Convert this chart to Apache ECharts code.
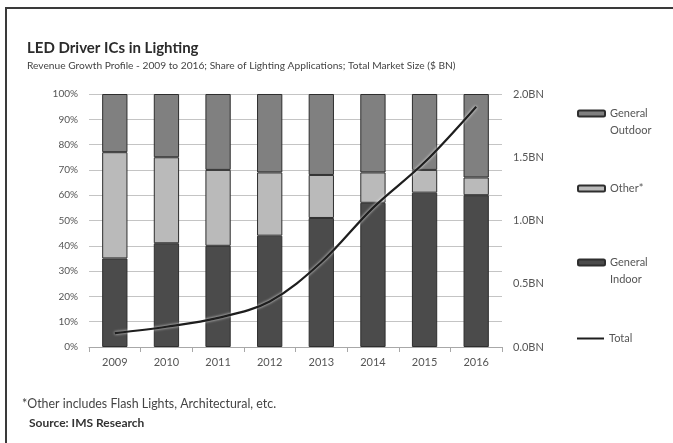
<!DOCTYPE html>
<html>
<head>
<meta charset="utf-8">
<style>
  html, body { margin: 0; padding: 0; background: #ffffff; }
  #chart { width: 673px; height: 443px; }
</style>
<script src="https://cdn.jsdelivr.net/npm/echarts@6/dist/echarts.min.js"></script>
</head>
<body>
<div id="chart"></div>
<script>
// Years on the category axis
const years = ['2009', '2010', '2011', '2012', '2013', '2014', '2015', '2016'];

// Share of lighting applications (% of revenue)
const generalIndoor  = [35, 41, 40, 44, 51, 57, 61, 60];
const otherShare     = [42, 34, 30, 25, 17, 12, 9, 7];
const generalOutdoor = [23, 25, 30, 31, 32, 31, 30, 33];

// Total market size, $ BN
const totalMarket = [0.11, 0.16, 0.23, 0.36, 0.67, 1.10, 1.46, 1.90];

// Axis ranges
const shareTicks = { min: 0, max: 100, interval: 10 };
const sizeTicks  = { min: 0, max: 2, interval: 0.5 };

const FONT = 'Lato, "Open Sans", sans-serif';
const TXT = '#555555';

const chart = echarts.init(document.getElementById('chart'), null, { renderer: 'canvas' });

const legendBase = {
  left: 577,
  padding: 0,
  itemWidth: 27,
  itemHeight: 6,
  itemGap: 3,
  selectedMode: false,
  textStyle: { fontFamily: FONT, fontSize: 11, color: TXT, lineHeight: 17 }
};

const barBorder = { borderColor: '#2e2e2e', borderWidth: 1 };

chart.setOption({
  animation: false,
  backgroundColor: '#ffffff',
  textStyle: { fontFamily: FONT },
  title: [
    {
      text: 'LED Driver ICs in Lighting',
      left: 22, top: 36,
      textStyle: { fontFamily: FONT, fontSize: 15, fontWeight: 'bold', color: '#2b2b2b' }
    },
    {
      text: 'Revenue Growth Profile - 2009 to 2016; Share of Lighting Applications; Total Market Size ($ BN)',
      left: 22, top: 56,
      textStyle: { fontFamily: FONT, fontSize: 10.2, fontWeight: 'normal', color: '#444' }
    },
    {
      text: '*Other includes Flash Lights, Architectural, etc.',
      left: 17, top: 393,
      textStyle: { fontFamily: FONT, fontSize: 12.4, fontWeight: 'normal', color: '#444' }
    },
    {
      text: 'Source: IMS Research',
      left: 24, top: 412,
      textStyle: { fontFamily: FONT, fontSize: 12, fontWeight: 'bold', color: '#333' }
    }
  ],
  legend: [
    Object.assign({}, legendBase, {
      top: 88, data: ['General Outdoor'],
      // blank first line keeps the swatch level with "General"
      formatter: () => ' \nGeneral\nOutdoor'
    }),
    Object.assign({}, legendBase, { top: 180, data: ['Other*'] }),
    Object.assign({}, legendBase, {
      top: 237, data: ['General Indoor'],
      formatter: () => ' \nGeneral\nIndoor'
    }),
    Object.assign({}, legendBase, {
      top: 330, itemHeight: 2,
      data: [{ name: 'Total', icon: 'rect' }]
    })
  ],
  grid: { left: 89, right: 171, top: 94, bottom: 96, containLabel: false },
  xAxis: {
    type: 'category',
    data: years,
    boundaryGap: true,
    axisLine: { lineStyle: { color: '#a8a8a8', width: 1 } },
    axisTick: { show: true, length: 5, lineStyle: { color: '#a8a8a8' } },
    axisLabel: { fontFamily: FONT, fontSize: 11, color: TXT, margin: 10 }
  },
  yAxis: [
    {
      type: 'value',
      min: shareTicks.min, max: shareTicks.max, interval: shareTicks.interval,
      axisLine: { show: false },
      axisTick: { show: false },
      axisLabel: { formatter: '{value}%', fontFamily: FONT, fontSize: 10, color: TXT, margin: 11 },
      splitLine: { lineStyle: { color: '#c4c4c4', width: 1 } }
    },
    {
      type: 'value',
      min: sizeTicks.min, max: sizeTicks.max, interval: sizeTicks.interval,
      axisLine: { show: false },
      axisTick: { show: false },
      splitLine: { show: false },
      axisLabel: {
        formatter: v => v.toFixed(1) + 'BN',
        fontFamily: FONT, fontSize: 11, color: TXT, margin: 11
      }
    }
  ],
  series: [
    {
      name: 'General Indoor', type: 'bar', stack: 'share', barWidth: '49%',
      data: generalIndoor,
      itemStyle: Object.assign({ color: '#4b4b4b' }, barBorder)
    },
    {
      name: 'Other*', type: 'bar', stack: 'share', barWidth: '49%',
      data: otherShare,
      itemStyle: Object.assign({ color: '#bababa' }, barBorder)
    },
    {
      name: 'General Outdoor', type: 'bar', stack: 'share', barWidth: '49%',
      data: generalOutdoor,
      itemStyle: Object.assign({ color: '#808080' }, barBorder)
    },
    {
      name: 'Total', type: 'line', yAxisIndex: 1,
      data: totalMarket,
      smooth: 0.35,
      symbol: 'none',
      z: 5,
      itemStyle: { color: '#1e1e1e' },
      lineStyle: { color: '#1e1e1e', width: 2.2, shadowColor: 'rgba(255,255,255,0.9)', shadowBlur: 3 }
    }
  ],
  graphic: [
    // Frame edges along the top and left
    { type: 'rect', shape: { x: 5, y: 7, width: 668, height: 2 }, style: { fill: '#3a3a3a' }, silent: true },
    { type: 'rect', shape: { x: 5, y: 7, width: 2, height: 436 }, style: { fill: '#3a3a3a' }, silent: true }
  ]
});
</script>
</body>
</html>
